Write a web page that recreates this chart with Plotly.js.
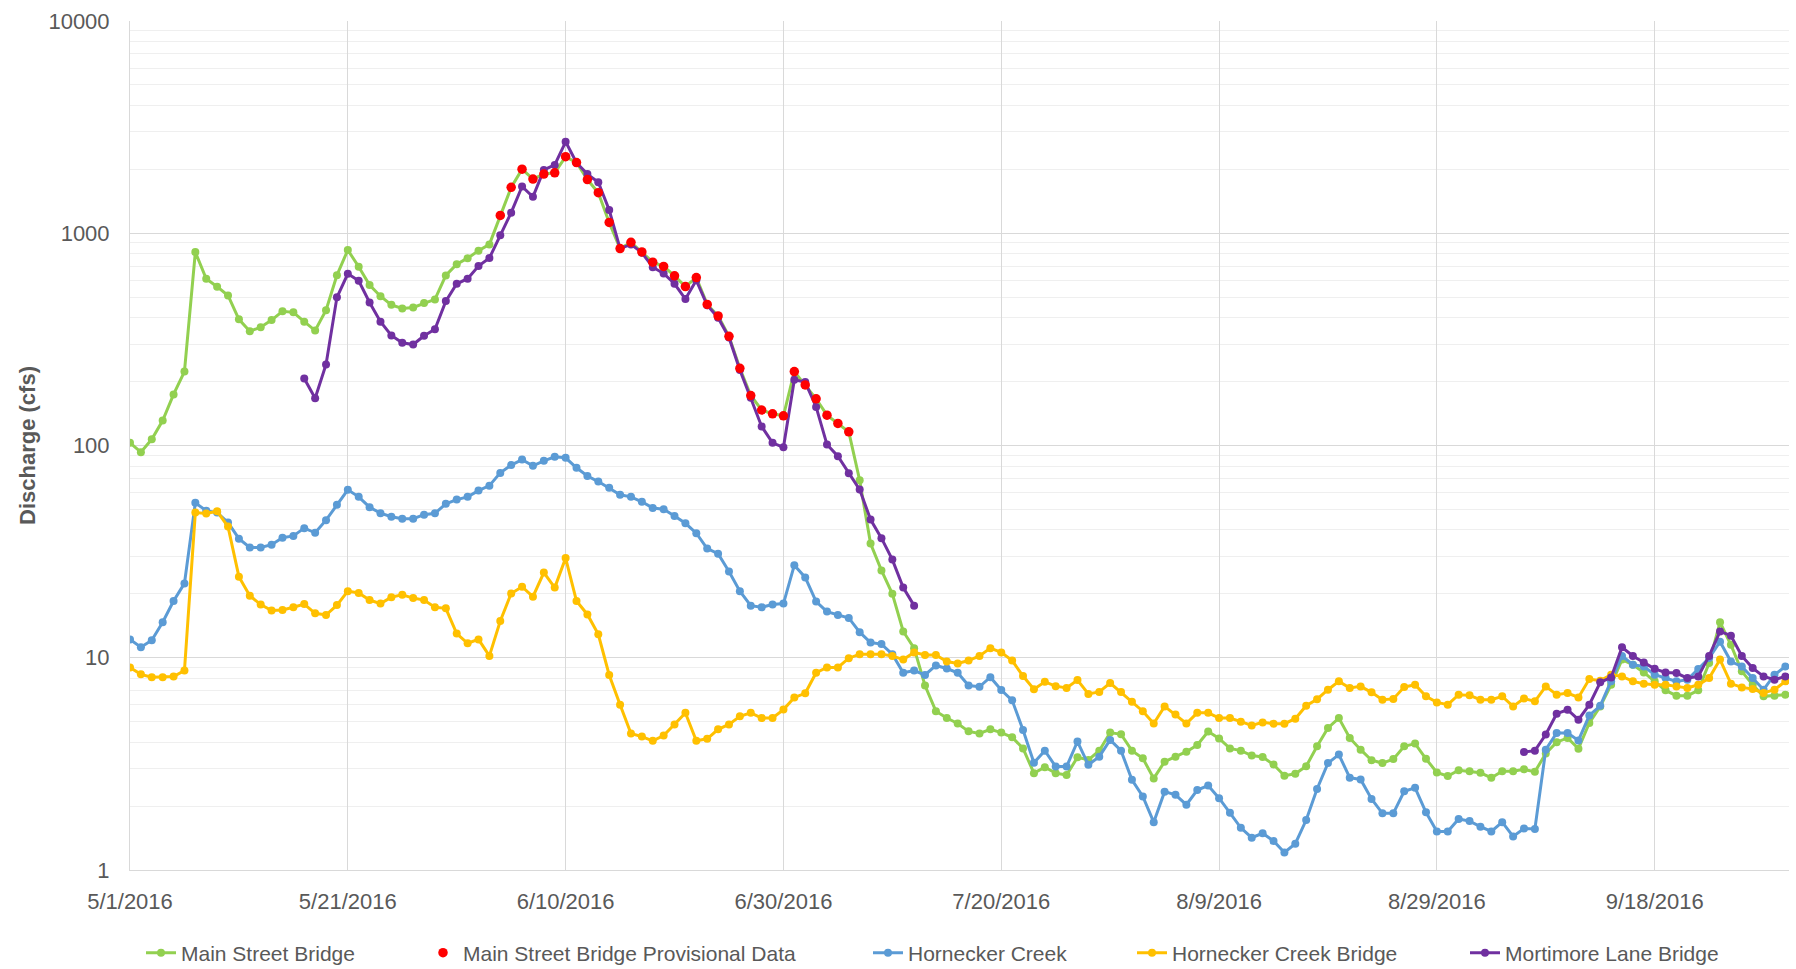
<!DOCTYPE html>
<html>
<head>
<meta charset="utf-8">
<script src="https://cdn.plot.ly/plotly-3.0.1.min.js"></script>
<style>html,body{margin:0;padding:0;background:#fff;}#chart{width:1796px;height:969px;}</style>
</head>
<body>
<div id="chart"></div>
<script>
// ---- Data (daily, 5/1/2016 .. 9/30/2016) ----
const startDate = '2016-05-01';
const dayCount = 153;

const mainStreet = [
 103, 93, 107, 131, 174, 223, 815, 610, 560, 509,
 393, 345, 361, 390, 429, 424, 383, 348, 434, 634,
 834, 695, 570, 505, 460, 442, 447, 469, 488, 633,
 714, 763, 828, 886, 1213, 1645, 2005, 1800, 1900, 1926,
 2296, 2153, 1791, 1553, 1124, 847, 906, 817, 731, 698,
 630, 561, 618, 462, 408, 327, 231, 172, 147, 141,
 138, 223, 193, 166, 139, 127, 116, 68.6, 34.5, 25.8,
 20, 13.3, 11.1, 7.4, 5.6, 5.2, 4.9, 4.5, 4.4, 4.6,
 4.44, 4.22, 3.74, 2.86, 3.05, 2.86, 2.8, 3.4, 3.3, 3.65,
 4.44, 4.36, 3.65, 3.36, 2.7, 3.24, 3.42, 3.61, 3.88, 4.49,
 4.17, 3.74, 3.65, 3.46, 3.41, 3.14, 2.78, 2.84, 3.08, 3.83,
 4.67, 5.2, 4.19, 3.69, 3.29, 3.19, 3.33, 3.83, 3.94, 3.34,
 2.88, 2.77, 2.95, 2.92, 2.87, 2.72, 2.92, 2.92, 2.98, 2.9,
 3.54, 4.0, 4.19, 3.73, 4.93, 5.9, 7.46, 9.8, 9.27, 8.53,
 7.74, 7.02, 6.63, 6.63, 7.02, 9.44, 14.7, 11.5, 8.63, 7.46,
 6.58, 6.63, 6.7
];

// Provisional data: 6/4/2016 .. 7/6/2016
const provisionalStart = '2016-06-04';
const provisional = [
 1213, 1645, 2005, 1800, 1900, 1926, 2296, 2153, 1791, 1553,
 1124, 847, 906, 817, 731, 698, 630, 561, 618, 462,
 408, 327, 231, 172, 147, 141, 138, 223, 193, 166,
 139, 127, 116
];

const horneckerCreek = [
 12.2, 11.2, 12.1, 14.7, 18.5, 22.4, 53.7, 49.3, 48.3, 43.4,
 36.4, 33.1, 33.1, 34.1, 36.8, 37.5, 40.8, 38.8, 44.5, 52.6,
 61.8, 57.3, 51.2, 48, 46.2, 45.2, 45.2, 47.2, 47.9, 53.1,
 55.6, 57.3, 61.3, 64.7, 74.3, 80.9, 85.8, 80.2, 84.7, 88.5,
 87.5, 78.5, 71.8, 67.6, 63.2, 58.6, 57.3, 54.3, 50.8, 50.1,
 46.6, 43, 38.6, 32.7, 30.9, 25.5, 20.6, 17.6, 17.3, 17.8,
 18.0, 27.3, 23.9, 18.4, 16.5, 15.9, 15.4, 13.2, 11.8, 11.6,
 10.4, 8.5, 8.7, 8.3, 9.2, 8.9, 8.5, 7.4, 7.3, 8.1,
 7.05, 6.3, 4.57, 3.2, 3.65, 3.07, 3.07, 4.03, 3.13, 3.42,
 4.1, 3.65, 2.66, 2.22, 1.68, 2.34, 2.26, 2.03, 2.38, 2.5,
 2.18, 1.86, 1.58, 1.42, 1.49, 1.37, 1.21, 1.33, 1.72, 2.41,
 3.19, 3.5, 2.72, 2.67, 2.16, 1.85, 1.85, 2.35, 2.44, 1.87,
 1.52, 1.52, 1.74, 1.70, 1.6, 1.52, 1.68, 1.44, 1.57, 1.56,
 3.69, 4.42, 4.42, 4.08, 5.35, 5.94, 7.74, 10.2, 9.27, 9.1,
 8.32, 8.02, 7.74, 7.88, 8.85, 9.96, 11.9, 9.6, 9.1, 8.02,
 7.07, 8.32, 9.1
];

const horneckerBridge = [
 9.0, 8.35, 8.1, 8.1, 8.15, 8.7, 48.3, 47.8, 49, 41.5,
 24.1, 19.6, 17.8, 16.7, 16.8, 17.3, 17.9, 16.2, 15.9, 17.7,
 20.6, 20.2, 18.7, 18.0, 19.3, 19.8, 19.1, 18.7, 17.3, 17.1,
 13.0, 11.7, 12.2, 10.2, 14.9, 20.1, 21.6, 19.4, 25.2, 21.4,
 29.5, 18.5, 16.0, 12.9, 8.3, 6.0, 4.4, 4.25, 4.06, 4.3,
 4.85, 5.5, 4.06, 4.15, 4.6, 4.85, 5.3, 5.5, 5.2, 5.2,
 5.7, 6.5, 6.8, 8.5, 9.0, 9.0, 9.95, 10.4, 10.4, 10.4,
 10.2, 9.8, 10.6, 10.3, 10.3, 9.6, 9.4, 9.7, 10.2, 11.1,
 10.6, 9.7, 8.2, 7.1, 7.7, 7.35, 7.2, 7.85, 6.75, 6.9,
 7.6, 6.9, 6.2, 5.6, 4.9, 5.9, 5.4, 4.9, 5.5, 5.5,
 5.2, 5.2, 5.0, 4.8, 4.96, 4.89, 4.89, 5.16, 5.94, 6.38,
 7.07, 7.74, 7.2, 7.33, 6.87, 6.34, 6.4, 7.28, 7.46, 6.58,
 6.16, 6.01, 6.7, 6.65, 6.34, 6.34, 6.58, 5.9, 6.43, 6.23,
 7.33, 6.7, 6.82, 6.5, 7.94, 7.8, 8.32, 8.17, 7.74, 7.55,
 7.46, 7.46, 7.33, 7.2, 7.46, 8.02, 9.8, 7.55, 7.25, 7.12,
 6.82, 7.07, 7.74
];

// Mortimore Lane Bridge: two periods of record
const mortimoreSpringStart = '2016-05-17';
const mortimoreSpring = [
 207, 167, 241, 499, 644, 597, 472, 383, 330, 305,
 299, 329, 353, 479, 578, 611, 701, 764, 978, 1250,
 1660, 1485, 1987, 2099, 2697, 2150, 1900, 1738, 1286, 847,
 886, 810, 692, 647, 578, 490, 600, 458, 400, 323,
 227, 168, 123, 103, 98, 204, 199, 152, 101, 89,
 74, 62, 44.8, 36.6, 29, 21.4, 17.6
];
const mortimoreFallStart = '2016-09-06';
const mortimoreFall = [
 3.6, 3.65, 4.35, 5.45, 5.69, 5.11, 6.01, 7.66, 8.08, 11.2,
 10.2, 9.5, 8.87, 8.53, 8.47, 8.02, 8.17, 10.2, 13.3, 12.7,
 10.2, 8.94, 8.17, 7.88, 8.17
];

const xTickVals = ['2016-05-01','2016-05-21','2016-06-10','2016-06-30','2016-07-20','2016-08-09','2016-08-29','2016-09-18'];
const xTickText = ['5/1/2016','5/21/2016','6/10/2016','6/30/2016','7/20/2016','8/9/2016','8/29/2016','9/18/2016'];
const yTickVals = [1, 10, 100, 1000, 10000];
const yTickText = ['1', '10', '100', '1000', '10000'];

const seriesNames = ['Main Street Bridge', 'Main Street Bridge Provisional Data', 'Hornecker Creek', 'Hornecker Creek Bridge', 'Mortimore Lane Bridge'];

// ---- helpers ----
function dayIndex(dateStr) {
  return Math.round((Date.parse(dateStr + 'T00:00:00Z') - Date.parse(startDate + 'T00:00:00Z')) / 86400000);
}
const dates = [];
for (let i = 0; i < dayCount; i++) {
  const d = new Date(Date.parse(startDate + 'T00:00:00Z') + i * 86400000);
  dates.push(d.toISOString().slice(0, 10));
}
function placeSegments(segments) {
  const out = new Array(dayCount).fill(null);
  segments.forEach(([start, vals]) => {
    const s = dayIndex(start);
    vals.forEach((v, k) => { out[s + k] = v; });
  });
  return out;
}
const mortimore = placeSegments([[mortimoreSpringStart, mortimoreSpring], [mortimoreFallStart, mortimoreFall]]);
const provisionalFull = placeSegments([[provisionalStart, provisional]]);

const COLORS = {green: '#92D050', red: '#FF0000', blue: '#5B9BD5', yellow: '#FFC000', purple: '#7030A0'};
const LW = 3, MS = 8;

function lineTrace(name, y, color, legendId) {
  return {
    type: 'scatter', mode: 'lines+markers', name: name, x: dates, y: y,
    line: {color: color, width: LW}, marker: {color: color, size: MS, symbol: 'circle'},
    connectgaps: false, legend: legendId, hoverinfo: 'x+y+name'
  };
}

const traces = [
  lineTrace(seriesNames[0], mainStreet, COLORS.green, 'legend'),
  lineTrace(seriesNames[2], horneckerCreek, COLORS.blue, 'legend3'),
  lineTrace(seriesNames[3], horneckerBridge, COLORS.yellow, 'legend4'),
  lineTrace(seriesNames[4], mortimore, COLORS.purple, 'legend5'),
  {
    type: 'scatter', mode: 'markers', name: seriesNames[1], x: dates, y: provisionalFull,
    marker: {color: COLORS.red, size: 9.5, symbol: 'circle'}, legend: 'legend2'
  }
];

const TEXT = '#595959';
const FONT = 'Liberation Sans, Arial, sans-serif';
function legendAt(px) {
  return {
    orientation: 'h', xref: 'container', yref: 'container',
    x: px / 1796, y: 1 - 953 / 969, xanchor: 'left', yanchor: 'middle',
    font: {family: FONT, size: 21, color: TEXT}, bgcolor: 'rgba(0,0,0,0)', borderwidth: 0
  };
}

const layout = {
  width: 1796, height: 969,
  paper_bgcolor: '#ffffff', plot_bgcolor: '#ffffff',
  margin: {l: 130, r: 7, t: 21, b: 99, pad: 0},
  font: {family: FONT, color: TEXT},
  showlegend: true,
  legend: legendAt(141),
  legend2: legendAt(423),
  legend3: legendAt(868),
  legend4: legendAt(1132),
  legend5: legendAt(1465),
  xaxis: {
    type: 'date', range: ['2016-05-01', '2016-09-30 08:00'],
    tickmode: 'array', tickvals: xTickVals, ticktext: xTickText,
    showgrid: true, gridcolor: '#d9d9d9', gridwidth: 1,
    showline: true, linecolor: '#d9d9d9', linewidth: 1,
    ticks: '', ticklabelstandoff: 12, zeroline: false,
    tickfont: {family: FONT, size: 22, color: TEXT}, automargin: false
  },
  yaxis: {
    type: 'log', range: [0, 4],
    tickmode: 'array', tickvals: yTickVals, ticktext: yTickText,
    showgrid: true, gridcolor: '#d9d9d9', gridwidth: 1,
    minor: {dtick: 'D1', showgrid: true, gridcolor: '#efefef', gridwidth: 1, ticks: ''},
    showline: true, linecolor: '#d9d9d9', linewidth: 1,
    ticks: '', ticklabelstandoff: 15, zeroline: false,
    tickfont: {family: FONT, size: 22, color: TEXT},
    title: {text: 'Discharge (cfs)', font: {family: FONT, size: 22, color: TEXT, weight: 'bold'}, standoff: 6},
    automargin: false
  }
};

Plotly.newPlot('chart', traces, layout, {displayModeBar: false, staticPlot: true});
</script>
</body>
</html>
